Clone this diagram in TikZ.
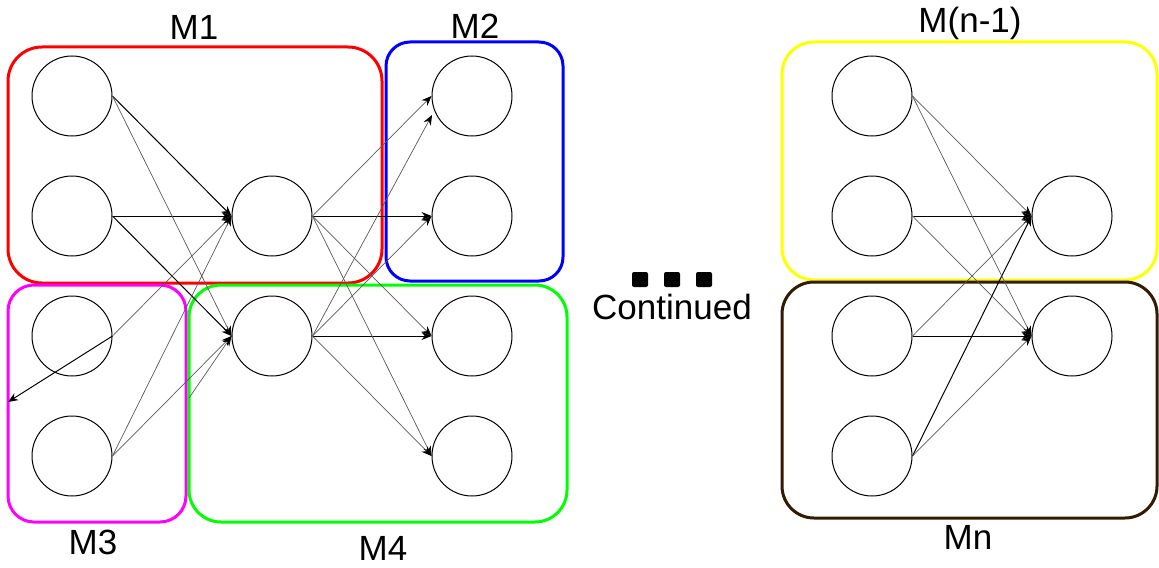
\documentclass[tikz,border=0pt]{standalone}
\usepackage{fontspec}
\setmainfont{Liberation Sans}
\usetikzlibrary{arrows.meta}
\definecolor{mred}{HTML}{FF0000}
\definecolor{mblue}{HTML}{0000FF}
\definecolor{mpink}{HTML}{FF00FF}
\definecolor{mgreen}{HTML}{00FF00}
\definecolor{myellow}{HTML}{FFFF00}
\definecolor{mbrown}{HTML}{331A00}

\begin{document}
\begin{tikzpicture}[x=0.5pt,y=-0.5pt,>={Stealth[length=5pt,width=4pt]},
    every node/.style={font=\fontsize{17.5}{21}\selectfont},
    neuron/.style={draw,circle,line width=0.5pt,minimum size=40pt,inner sep=0pt},
    strong/.style={->,line width=0.5pt,black},
    faint/.style={-{Stealth[length=5pt,width=4pt,color=black]},line width=0.35pt,black!65},
    group/.style={line width=1.5pt}]
        \useasboundingbox (0,0) rectangle (1159,567);

        % module boxes
        \draw[group,mred,rounded corners=17pt]    (8,47)    rectangle (382,283);
        \draw[group,mblue,rounded corners=12pt]   (386,42)  rectangle (563,281);
        \draw[group,mpink,rounded corners=13pt]   (8,285)   rectangle (186,522);
        \draw[group,mgreen,rounded corners=16pt]  (189,285) rectangle (567,522);
        \draw[group,myellow,rounded corners=16pt] (782,42)  rectangle (1157,280);
        \draw[group,mbrown,rounded corners=16pt]  (782,282) rectangle (1157,518);

        \node[anchor=base] at (194,40)  (m1) {M1};
        \node[anchor=base] at (475,39)  (m2) {M2};
        \node[anchor=base] at (93,554)  (m3) {M3};
        \node[anchor=base] at (383,560) (m4) {M4};
        \node[anchor=base] at (970,33)  (mn1) {M(n-1)};
        \node[anchor=base] at (968,549) (mn) {Mn};
        \node[anchor=base] at (672,319) (cont) {Continued};
        \foreach \x in {632,664,696}
        \fill[rounded corners=1pt] (\x,272) rectangle +(16,15);

        % left network
        \foreach \i in {1,...,4}
        \node[neuron] (in\i) at (72,120*\i-24) {};
        \foreach \i in {1,2}
        \node[neuron] (hid\i) at (272,120*\i+96) {};
        \foreach \i in {1,...,4}
        \node[neuron] (out\i) at (472,120*\i-24) {};

        \coordinate (m3side) at (8,402);
        \coordinate (m4side) at (189,398);
        \coordinate (out1low) at (432,115);

        \foreach \a / \b in {in1/hid1, in2/hid1, in2/hid2, hid1/out2, hid2/out3}
        \draw[strong] (\a.east) -- (\b.west);
        \foreach \a / \b in {in1/hid2, in3/hid1, in4/hid1, in4/hid2, hid1/out1, hid1/out3, hid1/out4, hid2/out2, hid2/out4}
        \draw[faint] (\a.east) -- (\b.west);
        \draw[strong] (in3.east) -- (m3side);
        \draw[faint] (m4side) -- (hid2.west);
        \draw[faint] (hid2.east) -- (out1low);

        % right network
        \foreach \i in {1,...,4}
        \node[neuron] (rin\i) at (872,120*\i-24) {};
        \foreach \i in {1,2}
        \node[neuron] (rout\i) at (1072,120*\i+96) {};

        \foreach \a / \b in {rin2/rout1, rin3/rout2, rin4/rout1}
        \draw[strong] (\a.east) -- (\b.west);
        \foreach \a / \b in {rin1/rout1, rin1/rout2, rin2/rout2, rin3/rout1, rin4/rout2}
        \draw[faint] (\a.east) -- (\b.west);
      \end{tikzpicture}
\end{document}
